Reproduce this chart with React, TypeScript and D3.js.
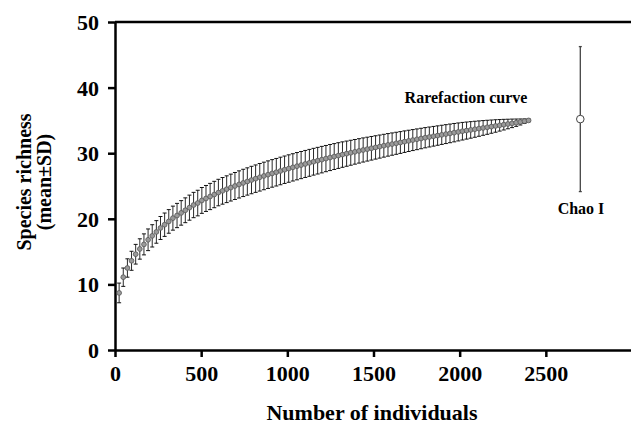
import React, { useEffect, useRef } from "react";
import * as d3 from "d3";

// sample sizes of the rarefaction curve (every 24 individuals)
const individuals = [
  24, 48, 72, 96, 120, 144, 168, 192, 216, 240,
  264, 288, 312, 336, 360, 384, 408, 432, 456, 480,
  504, 528, 552, 576, 600, 624, 648, 672, 696, 720,
  744, 768, 792, 816, 840, 864, 888, 912, 936, 960,
  984, 1008, 1032, 1056, 1080, 1104, 1128, 1152, 1176, 1200,
  1224, 1248, 1272, 1296, 1320, 1344, 1368, 1392, 1416, 1440,
  1464, 1488, 1512, 1536, 1560, 1584, 1608, 1632, 1656, 1680,
  1704, 1728, 1752, 1776, 1800, 1824, 1848, 1872, 1896, 1920,
  1944, 1968, 1992, 2016, 2040, 2064, 2088, 2112, 2136, 2160,
  2184, 2208, 2232, 2256, 2280, 2304, 2328, 2352, 2376, 2400,
];

const richnessMean = [
  8.7, 11.1, 12.5, 13.6, 14.6, 15.4, 16.1, 16.8, 17.4, 18.0,
  18.6, 19.1, 19.6, 20.1, 20.5, 20.9, 21.3, 21.7, 22.1, 22.4,
  22.8, 23.1, 23.4, 23.7, 24.0, 24.26, 24.51, 24.76, 25.0, 25.24,
  25.47, 25.69, 25.91, 26.12, 26.33, 26.53, 26.73, 26.92, 27.1, 27.29,
  27.48, 27.66, 27.84, 28.02, 28.19, 28.36, 28.53, 28.7, 28.86, 29.02,
  29.18, 29.34, 29.49, 29.64, 29.79, 29.93, 30.07, 30.21, 30.35, 30.49,
  30.62, 30.75, 30.88, 31.01, 31.14, 31.27, 31.39, 31.51, 31.63, 31.76,
  31.88, 32.0, 32.12, 32.24, 32.36, 32.47, 32.58, 32.69, 32.8, 32.91,
  33.02, 33.13, 33.24, 33.35, 33.45, 33.55, 33.65, 33.75, 33.85, 33.95,
  34.05, 34.15, 34.25, 34.35, 34.45, 34.55, 34.65, 34.76, 34.88, 35.0,
];

const richnessSD = [
  1.5, 1.4, 1.4, 1.45, 1.5, 1.55, 1.6, 1.65, 1.7, 1.72,
  1.75, 1.78, 1.8, 1.83, 1.85, 1.87, 1.89, 1.91, 1.93, 1.95,
  1.97, 1.98, 2.0, 2.01, 2.02, 2.03, 2.04, 2.05, 2.06, 2.07,
  2.08, 2.08, 2.09, 2.09, 2.1, 2.1, 2.1, 2.1, 2.1, 2.1,
  2.09, 2.09, 2.08, 2.08, 2.07, 2.06, 2.05, 2.04, 2.03, 2.02,
  2.0, 1.99, 1.97, 1.96, 1.94, 1.92, 1.9, 1.88, 1.86, 1.84,
  1.82, 1.8, 1.78, 1.76, 1.74, 1.72, 1.7, 1.68, 1.66, 1.64,
  1.62, 1.6, 1.58, 1.56, 1.54, 1.52, 1.5, 1.48, 1.46, 1.44,
  1.42, 1.4, 1.37, 1.34, 1.3, 1.26, 1.22, 1.17, 1.12, 1.07,
  1.01, 0.95, 0.88, 0.81, 0.73, 0.65, 0.56, 0.46, 0.35, 0.2,
];

// Chao 1 estimate
const chaoX = 2700;
const chaoMean = 35.2;
const chaoSD = 11.05;

const xTicks = [0, 500, 1000, 1500, 2000, 2500];
const yTicks = [0, 10, 20, 30, 40, 50];

const W = 631;
const H = 426;
const FONT = "'Liberation Serif', 'Times New Roman', serif";

const RarefactionChart = () => {
  const svgRef = useRef<SVGSVGElement>(null);

  useEffect(() => {
    const svg = d3.select(svgRef.current);
    svg.selectAll("*").remove();

    const x = d3.scaleLinear().domain([0, 3000]).range([115, 632]);
    const y = d3.scaleLinear().domain([0, 50]).range([350, 22]);

    const data = individuals.map((n, i) => ({
      n,
      mean: richnessMean[i],
      sd: richnessSD[i],
    }));

    // frame top line
    svg
      .append("line")
      .attr("x1", x(0))
      .attr("x2", W)
      .attr("y1", y(50))
      .attr("y2", y(50))
      .attr("stroke", "#000")
      .attr("stroke-width", 2.5);

    // axes
    const xAxis = svg
      .append("g")
      .attr("transform", `translate(0,${y(0)})`)
      .call(
        d3
          .axisBottom(x)
          .tickValues(xTicks)
          .tickFormat(d3.format("d"))
          .tickSize(7)
          .tickSizeOuter(0)
          .tickPadding(8)
      );

    const yAxis = svg
      .append("g")
      .attr("transform", `translate(${x(0)},0)`)
      .call(d3.axisLeft(y).tickValues(yTicks).tickSize(7).tickSizeOuter(0).tickPadding(9));

    [xAxis, yAxis].forEach((g) => {
      g.select(".domain").attr("stroke", "#000").attr("stroke-width", 2.5);
      g.selectAll(".tick line").attr("stroke", "#000").attr("stroke-width", 2.5);
      g.selectAll(".tick text")
        .attr("fill", "#000")
        .style("font-family", FONT)
        .style("font-size", "22px")
        .style("font-weight", "bold");
    });
    yAxis.selectAll(".tick text").attr("dy", "0.34em");
    xAxis.selectAll(".tick text").attr("dy", "0.72em");

    // error bars
    const bars = svg.append("g").attr("stroke", "#2a2a2a").attr("stroke-width", 1);
    data.forEach((d) => {
      const cx = x(d.n);
      bars
        .append("line")
        .attr("x1", cx)
        .attr("x2", cx)
        .attr("y1", y(d.mean - d.sd))
        .attr("y2", y(d.mean + d.sd));
      [d.mean - d.sd, d.mean + d.sd].forEach((v) => {
        bars
          .append("line")
          .attr("x1", cx - 2)
          .attr("x2", cx + 2)
          .attr("y1", y(v))
          .attr("y2", y(v))
          .attr("stroke", "#111");
      });
    });

    // points
    svg
      .append("g")
      .selectAll("circle")
      .data(data)
      .enter()
      .append("circle")
      .attr("cx", (d) => x(d.n))
      .attr("cy", (d) => y(d.mean))
      .attr("r", 2.4)
      .attr("fill", "#9a9a9a")
      .attr("stroke", "#555")
      .attr("stroke-width", 0.8);

    // Chao 1
    const cg = svg.append("g").attr("stroke", "#444").attr("stroke-width", 1.3);
    cg.append("line")
      .attr("x1", x(chaoX))
      .attr("x2", x(chaoX))
      .attr("y1", y(chaoMean - chaoSD))
      .attr("y2", y(chaoMean + chaoSD));
    [chaoMean - chaoSD, chaoMean + chaoSD].forEach((v) => {
      cg.append("line")
        .attr("x1", x(chaoX) - 1.5)
        .attr("x2", x(chaoX) + 1.5)
        .attr("y1", y(v))
        .attr("y2", y(v));
    });
    cg.append("circle")
      .attr("cx", x(chaoX))
      .attr("cy", y(chaoMean))
      .attr("r", 3.8)
      .attr("fill", "#fff")
      .attr("stroke", "#444")
      .attr("stroke-width", 1);

    // annotations
    const label = (tx: number, ty: number, text: string, size: number) =>
      svg
        .append("text")
        .attr("x", tx)
        .attr("y", ty)
        .attr("text-anchor", "middle")
        .style("font-family", FONT)
        .style("font-size", `${size}px`)
        .style("font-weight", "bold")
        .text(text);

    label(466, 103, "Rarefaction curve", 16);
    label(581, 214, "Chao I", 16);
    label(372, 420, "Number of individuals", 22);

    svg
      .append("text")
      .attr("transform", "translate(31,182) rotate(-90)")
      .attr("text-anchor", "middle")
      .style("font-family", FONT)
      .style("font-size", "20px")
      .style("font-weight", "bold")
      .text("Species richness");

    svg
      .append("text")
      .attr("transform", "translate(51,182) rotate(-90)")
      .attr("text-anchor", "middle")
      .style("font-family", FONT)
      .style("font-size", "20px")
      .style("font-weight", "bold")
      .text("(mean\u00B1SD)");
  }, []);

  return (
    <svg
      ref={svgRef}
      width={W}
      height={H}
      style={{ position: "absolute", left: 0, top: 0, background: "#fff" }}
    ></svg>
  );
};

export default function App() {
  return <RarefactionChart />;
}
